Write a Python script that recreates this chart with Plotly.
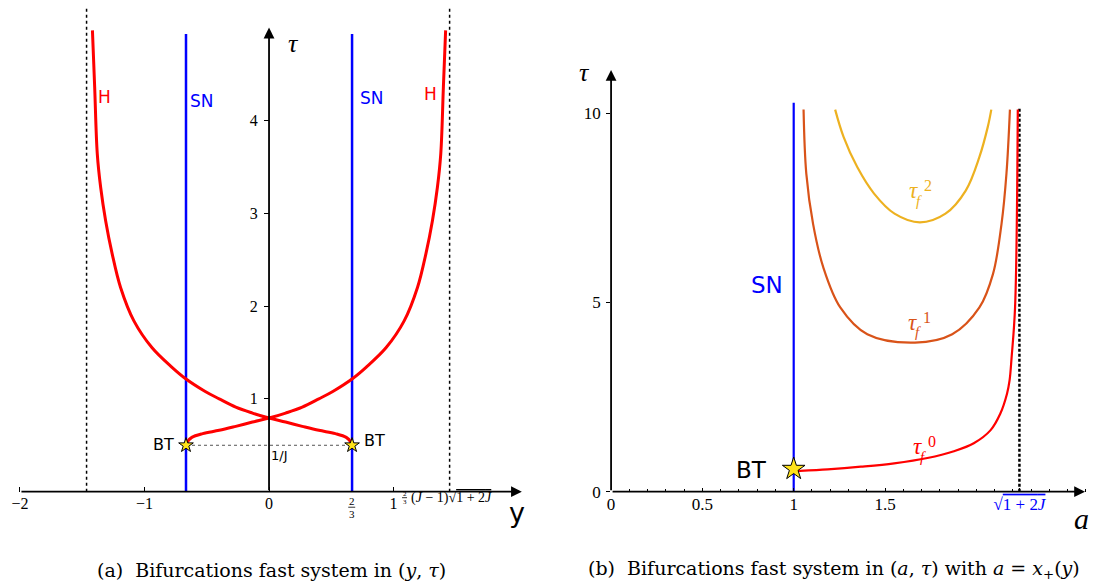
import plotly.graph_objects as go

# ---------------- data: panel (a) ----------------
h_y = [-0.667, -0.655, -0.62, -0.533, -0.4, -0.267, -0.133, 0.0, 0.133, 0.267, 0.4, 0.512,
       0.672, 0.779, 0.939, 1.085, 1.192, 1.259, 1.312, 1.352, 1.379, 1.40, 1.418]
h_tau = [0.50, 0.54, 0.585, 0.625, 0.661, 0.704, 0.75, 0.793, 0.847, 0.911, 1.0, 1.08,
         1.22, 1.34, 1.55, 1.84, 2.20, 2.56, 2.92, 3.28, 3.64, 4.36, 4.97]
h_y_mirror = [-v for v in h_y]
sn_a_y = [-2 / 3, 2 / 3]
sn_a_tau = [0, 4.93]
asym_a_y = [-1.465, 1.45]
asym_a_tau = [0, 5.22]
bt_a_y = [-2 / 3, 2 / 3]
bt_a_tau = [0.5, 0.5]
xa_tickvals = [-2, -1, 0, 1]
xa_ticktext = ["−2", "−1", "0", "1"]
ya_tickvals = [1, 2, 3, 4]

# ---------------- data: panel (b) ----------------
tf0_a = [1.0, 1.022, 1.186, 1.368, 1.55, 1.732, 1.877, 1.986, 2.077, 2.131, 2.168, 2.182, 2.193, 2.212, 2.227]
tf0_tau = [0.54, 0.545, 0.59, 0.66, 0.75, 0.89, 1.07, 1.28, 1.62, 2.06, 2.59, 2.94, 3.54, 4.87, 10.1]
tf1_a = [1.054, 1.069, 1.106, 1.162, 1.255, 1.403, 1.664, 1.868, 2.017, 2.091, 2.138, 2.165, 2.184]
tf1_tau = [10.1, 8.41, 7.08, 5.93, 4.87, 4.16, 3.94, 4.16, 4.87, 5.75, 7.08, 8.41, 10.1]
tf2_a = [1.227, 1.273, 1.348, 1.44, 1.552, 1.691, 1.831, 1.942, 2.017, 2.063, 2.082]
tf2_tau = [10.1, 9.38, 8.58, 7.88, 7.35, 7.12, 7.35, 7.96, 8.85, 9.65, 10.1]
sn_b_a = [1, 1]
sn_b_tau = [0, 10.28]
asym_b_a = [2.236, 2.236]
asym_b_tau = [0, 10.13]
bt_b_a = [1]
bt_b_tau = [0.6]
xb_tickvals = [0, 0.5, 1, 1.5, 2.236]
xb_ticktext = ["0", "0.5", "1", "1.5",
               "<span style='color:#0000ff'>√<span style='text-decoration:overline'>1 + 2<i>J</i></span></span>"]
yb_tickvals = [0, 5, 10]

RED = "#ff0000"
BLUE = "#0000ff"
C1 = "#d95319"
C2 = "#edb120"
SERIF = "Liberation Serif"
SANS = "DejaVu Sans"

fig = go.Figure()

# panel (a)
fig.add_trace(go.Scatter(x=asym_a_y[:1] * 2, y=asym_a_tau, mode="lines",
                         line=dict(color="black", width=1.5, dash="dot"), xaxis="x", yaxis="y"))
fig.add_trace(go.Scatter(x=asym_a_y[1:] * 2, y=asym_a_tau, mode="lines",
                         line=dict(color="black", width=1.5, dash="dot"), xaxis="x", yaxis="y"))
fig.add_trace(go.Scatter(x=bt_a_y, y=bt_a_tau, mode="lines",
                         line=dict(color="#555555", width=1, dash="dot"), xaxis="x", yaxis="y"))
for v in sn_a_y:
    fig.add_trace(go.Scatter(x=[v, v], y=sn_a_tau, mode="lines",
                             line=dict(color=BLUE, width=2.5), xaxis="x", yaxis="y"))
fig.add_trace(go.Scatter(x=h_y, y=h_tau, mode="lines", line=dict(color=RED, width=3, shape="spline"),
                         xaxis="x", yaxis="y"))
fig.add_trace(go.Scatter(x=h_y_mirror, y=h_tau, mode="lines", line=dict(color=RED, width=3, shape="spline"),
                         xaxis="x", yaxis="y"))
fig.add_trace(go.Scatter(x=bt_a_y, y=bt_a_tau, mode="markers",
                         marker=dict(symbol="star", size=11, color="#ffe21a", line=dict(color="black", width=1)),
                         xaxis="x", yaxis="y"))

# panel (b)
fig.add_trace(go.Scatter(x=sn_b_a, y=sn_b_tau, mode="lines", line=dict(color=BLUE, width=2.2),
                         xaxis="x2", yaxis="y2"))
fig.add_trace(go.Scatter(x=asym_b_a, y=asym_b_tau, mode="lines",
                         line=dict(color="black", width=2.5, dash="3px,2px"), xaxis="x2", yaxis="y2"))
fig.add_trace(go.Scatter(x=tf2_a, y=tf2_tau, mode="lines", line=dict(color=C2, width=2.2, shape="spline"),
                         xaxis="x2", yaxis="y2"))
fig.add_trace(go.Scatter(x=tf1_a, y=tf1_tau, mode="lines", line=dict(color=C1, width=2.2, shape="spline"),
                         xaxis="x2", yaxis="y2"))
fig.add_trace(go.Scatter(x=tf0_a, y=tf0_tau, mode="lines", line=dict(color=RED, width=2.2, shape="spline"),
                         xaxis="x2", yaxis="y2"))
fig.add_trace(go.Scatter(x=bt_b_a, y=bt_b_tau, mode="markers",
                         marker=dict(symbol="star", size=17, color="#ffe21a", line=dict(color="black", width=1)),
                         xaxis="x2", yaxis="y2"))

W = 1094
YS = 596 / 584          # vertical correction
H = 596
ax0 = 266
sa = 125.0
ay0 = 490 * YS
ta = 92.5 * YS
bx0 = 609.3
sb = 183.3
tb = 37.7 * YS

fig.update_layout(
    width=W, height=H, margin=dict(l=0, r=0, t=0, b=0),
    paper_bgcolor="white", plot_bgcolor="white", showlegend=False,
    xaxis=dict(domain=[0, 540 / W], range=[(0 - ax0) / sa, (540 - ax0) / sa],
               tickvals=xa_tickvals, ticktext=xa_ticktext, ticks="inside", ticklen=5,
               tickcolor="black", showgrid=False, zeroline=False, showline=False,
               tickfont=dict(family=SERIF, size=16, color="black"), anchor="y"),
    yaxis=dict(domain=[(H - ay0) / H, 1], range=[0, ay0 / ta], anchor="free",
               position=ax0 / W, tickvals=ya_tickvals, ticks="outside", ticklen=5,
               tickcolor="black", showgrid=False, zeroline=False, showline=False,
               ticklabelstandoff=3, tickfont=dict(family=SERIF, size=16, color="black")),
    xaxis2=dict(domain=[bx0 / W, 1], range=[0, (W - bx0) / sb], tickvals=xb_tickvals,
                ticktext=xb_ticktext, ticks="inside", ticklen=4, tickcolor="black",
                minor=dict(dtick=0.1, tick0=0, ticks="inside", ticklen=3, tickcolor="black"),
                showgrid=False, zeroline=False, showline=False,
                tickfont=dict(family=SERIF, size=17, color="black"), anchor="y2"),
    yaxis2=dict(domain=[(H - ay0) / H, 1], range=[0, ay0 / tb], tickvals=yb_tickvals,
                ticks="outside", ticklen=4, tickcolor="black", showgrid=False,
                zeroline=False, showline=False, ticklabelstandoff=2,
                tickfont=dict(family=SERIF, size=17, color="black"), anchor="x2"),
)


def arrow(xref, yref, x0, y0, x1, y1):
    fig.add_annotation(x=x1, y=y1, ax=x0, ay=y0, xref=xref, yref=yref, axref=xref, ayref=yref,
                       text="", showarrow=True, arrowhead=2, arrowsize=1.2, arrowwidth=1.8,
                       arrowcolor="black", standoff=0, startstandoff=0)


arrow("x", "y", -2.0, 0, 2.03, 0)
arrow("x", "y", 0, 0, 0, 5.0)
arrow("x2", "y2", 0, 0, 2.595, 0)
arrow("x2", "y2", 0, 0, 0, 11.15)


def lab(px, py, text, color="black", size=18, family=SANS, xanchor="center"):
    fig.add_annotation(x=px / W, y=(H - py * YS) / H, xref="paper", yref="paper", text=text,
                       showarrow=False, xanchor=xanchor, yanchor="middle",
                       font=dict(family=family, size=size, color=color))


def bar(px0, px1, py, color="black"):
    fig.add_shape(type="line", xref="paper", yref="paper", x0=px0 / W, x1=px1 / W,
                  y0=(H - py * YS) / H, y1=(H - py * YS) / H, line=dict(color=color, width=0.8))


# panel (a) labels
lab(101, 97, "H", RED, 17)
lab(428, 94, "H", RED, 17)
lab(199, 101, "SN", BLUE, 17)
lab(369, 98, "SN", BLUE, 17)
lab(160, 443, "BT", "black", 16)
lab(372, 439, "BT", "black", 16)
lab(277, 454, "1/J", "black", 13)
lab(291, 43, "<i>τ</i>", "black", 26, SERIF)
lab(515, 511, "y", "black", 27)
# tick label 2/3
lab(349, 499, "2", "black", 11, SERIF)
bar(345.5, 352.5, 505.5)
lab(349, 512, "3", "black", 11, SERIF)
# tick label (2/3)(J-1)sqrt(1+2J)
lab(402, 492, "2", "black", 7, SERIF)
bar(399.5, 404.5, 496)
lab(402, 500, "3", "black", 7, SERIF)
lab(406, 496, "(<i>J</i> − 1)√<span style='text-decoration:overline'>1 + 2<i>J</i></span>",
    "black", 14, SERIF, xanchor="left")

# panel (b) labels
lab(766, 284, "SN", BLUE, 23)
lab(750, 468, "BT", "black", 23)
lab(583, 72, "<i>τ</i>", "black", 26, SERIF)
lab(1081, 517, "<i>a</i>", "black", 30, SERIF)
for (px, py, sup, col) in [(906, 190, "2", C2), (905, 321, "1", C1), (910, 445, "0", RED)]:
    lab(px, py, "<i>τ</i>", col, 23, SERIF, xanchor="left")
    lab(px + 7, py + 10, "<i>f</i>", col, 15, SERIF, xanchor="left")
    lab(px + 15, py - 5, sup, col, 16, SERIF, xanchor="left")

# captions
lab(268, 568, "(a)  Bifurcations fast system in (<i>y</i>, <i>τ</i>)", "black", 19, "DejaVu Serif")
lab(833, 568, "(b)  Bifurcations fast system in (<i>a</i>, <i>τ</i>) with <i>a</i> = <i>x</i><sub>+</sub>(<i>y</i>)",
    "black", 19, "DejaVu Serif")

fig.write_html("out.html", config={"displayModeBar": False},
               post_script="document.body.style.margin='0px';document.body.style.overflow='hidden';")
